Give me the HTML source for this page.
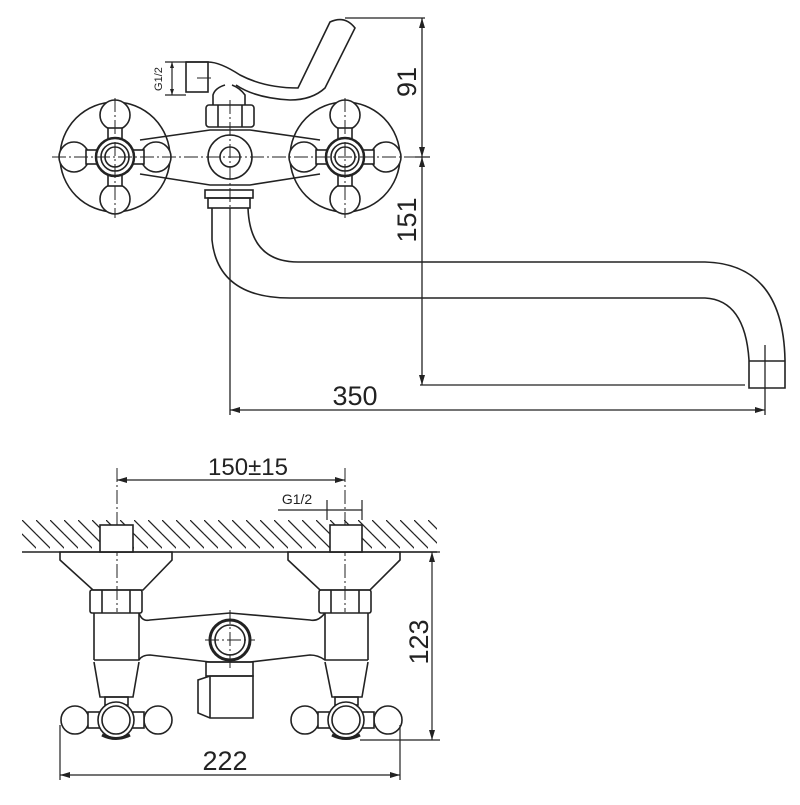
<!DOCTYPE html>
<html><head><style>html,body{margin:0;padding:0;background:#fff}</style></head><body>
<svg width="800" height="800" viewBox="0 0 800 800" xmlns="http://www.w3.org/2000/svg" font-family="Liberation Sans, sans-serif">
<defs>
<pattern id="h" width="14" height="32" patternUnits="userSpaceOnUse" patternTransform="translate(22,520)">
<line x1="0" y1="0" x2="32" y2="32" stroke="#222" stroke-width="1.3"/>
<line x1="-14" y1="0" x2="18" y2="32" stroke="#222" stroke-width="1.3"/>
</pattern>
</defs>
<g fill="none" stroke="#222" stroke-width="1.6">
<!-- TOP VIEW -->
<circle cx="115" cy="157" r="55"/>
<circle cx="345" cy="157" r="55"/>
<!-- body -->
<path d="M140 140 L210 130 L250 130 L320 140 M140 174 L210 185 L250 185 L320 174"/>
<circle cx="230" cy="157" r="22" fill="#fff"/>
<circle cx="230" cy="157" r="10"/>
<!-- knobs -->
<g id="k">
<circle cx="115" cy="115" r="15" fill="#fff"/><circle cx="115" cy="199" r="15" fill="#fff"/>
<circle cx="74" cy="157" r="15" fill="#fff"/><circle cx="156" cy="157" r="15" fill="#fff"/>
<rect x="108" y="128" width="14" height="58" fill="#fff"/>
<rect x="86" y="150" width="58" height="14" fill="#fff"/>
<circle cx="115" cy="157" r="19" fill="#fff" stroke-width="2.5"/>
<circle cx="115" cy="157" r="14"/><circle cx="115" cy="157" r="10"/>
</g>
<use href="#k" x="230"/>
<!-- nut -->
<rect x="206" y="105" width="48" height="22" rx="3" fill="#fff"/>
<path d="M218 105 V127 M242 105 V127"/>
<path d="M213 105 V95 Q215 88 225 85 M245 105 V95 Q240 88 232 85"/>
<!-- lever -->
<path d="M186 62 H208 Q220 62 240 75 Q265 88 298 88 L330 22 Q345 15 355 28 L325 88 Q312 100 290 100 Q255 98 236 85"/>
<rect x="186" y="62" width="22" height="30"/>
<!-- bottom connector -->
<rect x="205" y="190" width="48" height="8"/>
<rect x="208" y="198" width="42" height="10"/>
<!-- spout -->
<path d="M212 208 V240 Q218 298 290 298 H705 Q745 300 749 360 V388 H785 V360 Q783 264 705 262 H298 Q250 262 248 208"/>
<path d="M749 361 H785"/>
<!-- G1/2 small dim -->
<path d="M165 62 H186 M165 95 H186 M172 62 V95" stroke-width="1.2"/>
<!-- dims top -->
<path d="M345 18 H425 M422 18 V385 M415 157 H430 M420 385 H745" stroke-width="1.3"/>
<path d="M230 208 V415 M765 345 V415 M230 410 H765" stroke-width="1.3"/>
<!-- center lines -->
<g stroke-width="1" stroke-dasharray="14 3 2 3">
<path d="M52 157 H430 M115 98 V218 M345 98 V218 M230 100 V215 M197 78 H212"/>
<path d="M117 468 V555 M345 468 V555 M117 520 V612 M345 520 V612 M230 610 V668 M205 640 H255"/>
</g>
<!-- BOTTOM VIEW -->
<rect x="22" y="520" width="415" height="32" fill="url(#h)" stroke="none"/>
<path d="M22 552 H437"/>
<rect x="100" y="525" width="33" height="27" fill="#fff"/>
<rect x="330" y="525" width="32" height="27" fill="#fff"/>
<path d="M60 552 H172 V560 L143 590 H93 L60 560 Z M288 552 H400 V560 L370 590 H320 L288 560 Z"/>
<rect x="90" y="590" width="52" height="23" rx="2"/>
<path d="M102 590 V613 M130 590 V613"/>
<rect x="319" y="590" width="52" height="23" rx="2"/>
<path d="M331 590 V613 M359 590 V613"/>
<path d="M94 613 V660 M139 613 V660 M325 613 V660 M368 613 V660"/>
<path d="M139 613 Q142 622 150 620 L230 613 L310 620 Q318 622 325 613"/>
<path d="M94 660 H139 Q142 655 150 655 L210 662 H250 L310 655 Q318 655 325 660 H368"/>
<circle cx="230" cy="640" r="20" stroke-width="3"/>
<circle cx="230" cy="640" r="15"/>
<path d="M94 662 L100 697 H133 L139 662 M325 662 L332 697 H362 L368 662"/>
<rect x="206" y="662" width="47" height="14"/>
<path d="M210 676 H253 V718 H210 L198 713 V680 Z M210 676 V718"/>
<g id="bk">
<rect x="105" y="697" width="23" height="8"/>
<circle cx="75" cy="720" r="14" fill="#fff"/><circle cx="158" cy="720" r="14" fill="#fff"/>
<rect x="88" y="712" width="56" height="16" fill="#fff"/>
<circle cx="116" cy="720" r="18" fill="#fff"/>
<circle cx="116" cy="720" r="14"/>
<path d="M102 735 Q116 742 130 735" stroke-width="3"/>
</g>
<use href="#bk" x="230"/>
<!-- dims bottom -->
<path d="M117 480 H345 M278 510 H362 M327 500 V520 M362 500 V520" stroke-width="1.2"/>
<path d="M400 552 H440 M360 740 H440 M432 552 V740" stroke-width="1.2"/>
<path d="M60 725 V780 M400 725 V780 M60 775 H400" stroke-width="1.2"/>
</g>
<g fill="#222">
<path d="M422 18 l-3 10 h6z M422 157 l-3 -10 h6z M422 157 l-3 10 h6z M422 385 l-3 -10 h6z"/>
<path d="M230 410 l10 -3 v6z M765 410 l-10 -3 v6z"/>
<path d="M117 480 l10 -3 v6z M345 480 l-10 -3 v6z"/>
<path d="M432 552 l-3 10 h6z M432 740 l-3 -10 h6z"/>
<path d="M60 775 l10 -3 v6z M400 775 l-10 -3 v6z"/>
<path d="M172 62 l-2 6 h4z M172 95 l-2 -6 h4z"/>
</g>
<g fill="#222" font-size="27">
<text x="416" y="82" transform="rotate(-90 416 82)" text-anchor="middle">91</text>
<text x="416" y="220" transform="rotate(-90 416 220)" text-anchor="middle">151</text>
<text x="355" y="405" text-anchor="middle">350</text>
<text x="248" y="475" text-anchor="middle" font-size="24">150±15</text>
<text x="225" y="770" text-anchor="middle">222</text>
<text x="428" y="642" transform="rotate(-90 428 642)" text-anchor="middle">123</text>
<text x="297" y="504" text-anchor="middle" font-size="14">G1/2</text>
<text x="162" y="79" transform="rotate(-90 162 79)" text-anchor="middle" font-size="11">G1/2</text>
</g>
</svg>
</body></html>
